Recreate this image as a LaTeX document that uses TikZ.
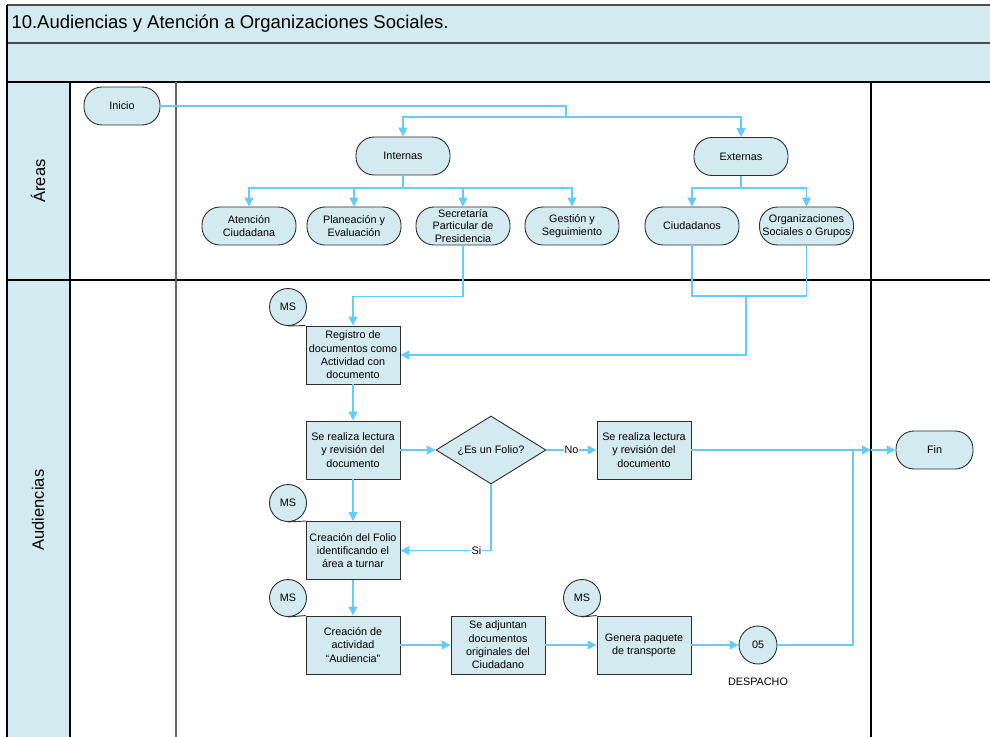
\documentclass[tikz,border=0pt]{standalone}
\usepackage{fontspec}
\setmainfont{Liberation Sans}
\usetikzlibrary{arrows.meta,shapes.geometric}
\definecolor{paleblue}{RGB}{210,234,240}
\definecolor{flowblue}{RGB}{102,204,255}
\definecolor{edgegray}{RGB}{45,45,45}
\begin{document}
\begin{tikzpicture}[x=1pt,y=-1pt,
  every node/.style={font=\fontsize{10.8}{13.3}\selectfont, text=black},
  terminal/.style={draw=edgegray, fill=paleblue, rounded corners=18pt,
    minimum width=94pt, minimum height=38pt, align=center, inner sep=1pt, line width=0.9pt},
  task/.style={draw=edgegray, fill=paleblue, minimum width=94pt, minimum height=58pt,
    align=center, inner sep=1pt, line width=0.9pt},
  decision/.style={draw=edgegray, fill=paleblue, diamond, aspect=1.62,
    minimum width=110pt, minimum height=68pt, inner sep=0pt, line width=0.9pt},
  marker/.style={draw=edgegray, fill=paleblue, circle, minimum size=37pt,
    inner sep=0pt, line width=0.9pt},
  flow/.style={draw=flowblue, line width=1.5pt},
  flowarrow/.style={flow, -{Triangle[length=9pt,width=9pt]}},
  lane/.style={line width=1.2pt, draw=black},
  tag/.style={fill=white, inner sep=1pt}
]
\useasboundingbox (0,0) rectangle (990,736);
\clip (0,0) rectangle (990,736);

% swimlane frame
\fill[paleblue] (7,5) rectangle (1000,82);
\fill[paleblue] (7,82) rectangle (70,745);
\draw[lane, draw=black!70] (7,5) -- (1000,5);
\draw[lane, draw=black!70] (7,43) -- (1000,43);
\draw[lane] (7,82) -- (1000,82);
\draw[lane] (7,280) -- (1000,280);
\draw[lane] (7,5) -- (7,745);
\draw[lane] (70,82) -- (70,745);
\draw[lane, draw=black!60] (176,82) -- (176,745);
\draw[lane] (871,82) -- (871,745);

\node[anchor=west, font=\fontsize{18.5}{22}\selectfont] (title) at (8,24)
  {10.Audiencias y Atención a Organizaciones Sociales.};
\node[rotate=90, font=\fontsize{16.5}{20}\selectfont] (lareas) at (38,181) {Áreas};
\node[rotate=90, font=\fontsize{16.5}{20}\selectfont] (laud) at (38,510) {Audiencias};

% Areas lane
\node[terminal, minimum width=76pt] (inicio) at (122,106) {Inicio};
\node[terminal] (internas) at (403,156) {Internas};
\node[terminal] (externas) at (741,156.5) {Externas};
\node[terminal] (aten) at (249,226) {Atención\\Ciudadana};
\node[terminal] (plan) at (354,226) {Planeación y\\Evaluación};
\node[terminal, font=\fontsize{10.8}{12.3}\selectfont] (secret) at (463,226)
  {Secretaría\\Particular de\\Presidencia};
\node[terminal] (gest) at (572,226) {Gestión y\\Seguimiento};
\node[terminal] (ciud) at (692,226) {Ciudadanos};
\node[terminal, inner sep=0pt] (orgs) at (806.5,226) {Organizaciones\\Sociales o Grupos};

% Audiencias lane
\node[task] (registro) at (353,355) {Registro de\\documentos como\\Actividad con\\documento};
\node[task] (lect1) at (353,450) {Se realiza lectura\\y revisión del\\documento};
\node[decision] (folio) at (491,450) {¿Es un Folio?};
\node[task] (lect2) at (644,450) {Se realiza lectura\\y revisión del\\documento};
\node[terminal, minimum width=77pt] (fin) at (934.5,450) {Fin};
\node[task] (folio2) at (353,550.5) {Creación del Folio\\identificando el\\área a turnar};
\node[task] (act) at (353,645) {Creación de\\actividad\\“Audiencia”};
\node[task] (adj) at (498,645) {Se adjuntan\\documentos\\originales del\\Ciudadano};
\node[task] (paq) at (644,645) {Genera paquete\\de transporte};
\node[marker, minimum size=38pt] (c05) at (758,645) {05};
\node (despacho) at (758,682) {DESPACHO};

\node[marker] (ms1) at (288,307) {MS};
\node[marker] (ms2) at (288,503) {MS};
\node[marker] (ms3) at (288,598) {MS};
\node[marker] (ms4) at (582,598) {MS};
\draw[edgegray, line width=0.9pt] (ms1.south) -- (registro.north west);
\draw[edgegray, line width=0.9pt] (ms2.south) -- (folio2.north west);
\draw[edgegray, line width=0.9pt] (ms3.south) -- (act.north west);
\draw[edgegray, line width=0.9pt] (ms4.south) -- (paq.north west);

% connectors in the Areas lane
\coordinate (split) at (566,117);
\draw[flow] (inicio.east) -| (split);
\draw[flowarrow] (split) -| (internas.north);
\draw[flowarrow] (split) -| (externas.north);

\coordinate (busi) at (403,188);
\draw[flow] (internas.south) -- (busi);
\draw[flowarrow] (busi) -| (aten.north);
\draw[flowarrow] (busi) -| (plan.north);
\draw[flowarrow] (busi) -| (secret.north);
\draw[flowarrow] (busi) -| (gest.north);

\coordinate (buse) at (741,188);
\draw[flow] (externas.south) -- (buse);
\draw[flowarrow] (buse) -| (ciud.north);
\draw[flowarrow] (buse) -| (orgs.north);

% connectors into the Audiencias lane
\coordinate (merge) at (746,296);
\draw[flow] (ciud.south) |- (merge) -| (orgs.south);
\draw[flowarrow] (merge) |- (registro.east);
\draw[flowarrow] (secret.south) -- ++(0,51) -| (registro.north);

\draw[flowarrow] (registro.south) -- (lect1.north);
\draw[flowarrow] (lect1.east) -- (folio.west);
\draw[flowarrow] (folio.east) -- node[tag] {No} (lect2.west);
\draw[flowarrow] (folio.south) |- node[tag, pos=0.58] {Si} (folio2.east);
\draw[flowarrow] (lect1.south) -- (folio2.north);
\draw[flowarrow] (folio2.south) -- (act.north);
\draw[flowarrow] (act.east) -- (adj.west);
\draw[flowarrow] (adj.east) -- (paq.west);
\draw[flowarrow] (paq.east) -- (c05.west);

\coordinate (edge) at (871,450);
\coordinate (join) at (853,450);
\draw[flowarrow] (lect2.east) -- (edge);
\draw[flowarrow] (edge) -- (fin.west);
\draw[flow] (c05.east) -| (join);
\end{tikzpicture}
\end{document}
